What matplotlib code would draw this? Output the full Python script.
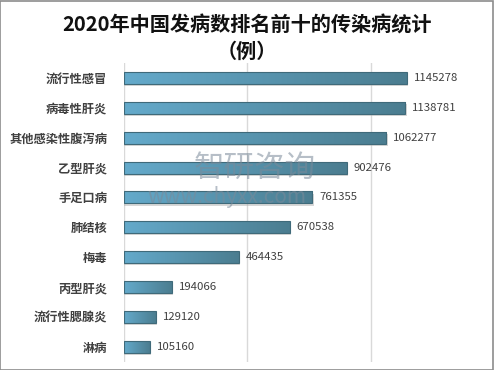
import matplotlib.pyplot as plt
import numpy as np
from matplotlib.colors import LinearSegmentedColormap
from matplotlib.patches import Rectangle

plt.rcParams['font.family'] = ['Noto Sans CJK SC', 'DejaVu Sans']

diseases = ['流行性感冒', '病毒性肝炎', '其他感染性腹泻病', '乙型肝炎', '手足口病',
            '肺结核', '梅毒', '丙型肝炎', '流行性腮腺炎', '淋病']
cases = [1145278, 1138781, 1062277, 902476, 761355,
         670538, 464435, 194066, 129120, 105160]

fig = plt.figure(figsize=(4.94, 3.70), dpi=100)
fig.patch.set_facecolor('white')
fig.patches.append(Rectangle((0.001, 0.001), 0.997, 0.996, transform=fig.transFigure,
                             fill=False, edgecolor='#8c8c8c', linewidth=1.2))

ax = fig.add_axes([0.251, 0.022, 0.725, 0.808])
y = np.arange(len(diseases))[::-1]
cmap = LinearSegmentedColormap.from_list('bar', ['#64aacb', '#4b7d90'])
grad = np.linspace(0, 1, 256).reshape(1, -1)
h = 0.4

for yi, v in zip(y, cases):
    # soft shadow under each bar
    ax.add_patch(Rectangle((0, yi - h / 2 - 0.07), v + 6000, h, facecolor='#b0b0b0',
                           edgecolor='none', alpha=0.5, zorder=2))
    bar = ax.barh(yi, v, height=h, color='none', edgecolor='#3f6a7a', linewidth=0.8, zorder=4)[0]
    im = ax.imshow(grad, cmap=cmap, aspect='auto', extent=(0, v, yi - h / 2, yi + h / 2), zorder=3)
    im.set_clip_path(bar)
    ax.text(v + 28000, yi, str(v), va='center', ha='left', fontsize=8.2, color='#404040')

ax.set_xlim(0, 1450000)
ax.set_ylim(-0.5, len(diseases) - 0.5)
ax.set_xticks([0, 500000, 1000000])
ax.xaxis.grid(True, color='#d9d9d9', linewidth=1)
ax.set_axisbelow(True)
ax.tick_params(axis='x', length=0, labelbottom=False)
ax.tick_params(axis='y', length=0, pad=12)
ax.set_yticks(y)
ax.set_yticklabels(diseases, fontsize=8.8, color='#404040', fontweight='bold')
for s in ax.spines.values():
    s.set_visible(False)

fig.text(0.5, 0.932, '2020年中国发病数排名前十的传染病统计', ha='center', va='center',
         fontsize=14.5, fontweight='bold', color='#111111')
fig.text(0.5, 0.862, '（例）', ha='center', va='center',
         fontsize=14.5, fontweight='bold', color='#111111')

# watermark
fig.text(0.515, 0.545, '智研咨询', ha='center', va='center', fontsize=22,
         color='#7a8a99', alpha=0.55, zorder=10)
fig.text(0.46, 0.468, 'www.chyxx.com', ha='center', va='center', fontsize=15,
         color='#7a8a99', alpha=0.55, zorder=10)

fig.savefig('out.png', dpi=100)
